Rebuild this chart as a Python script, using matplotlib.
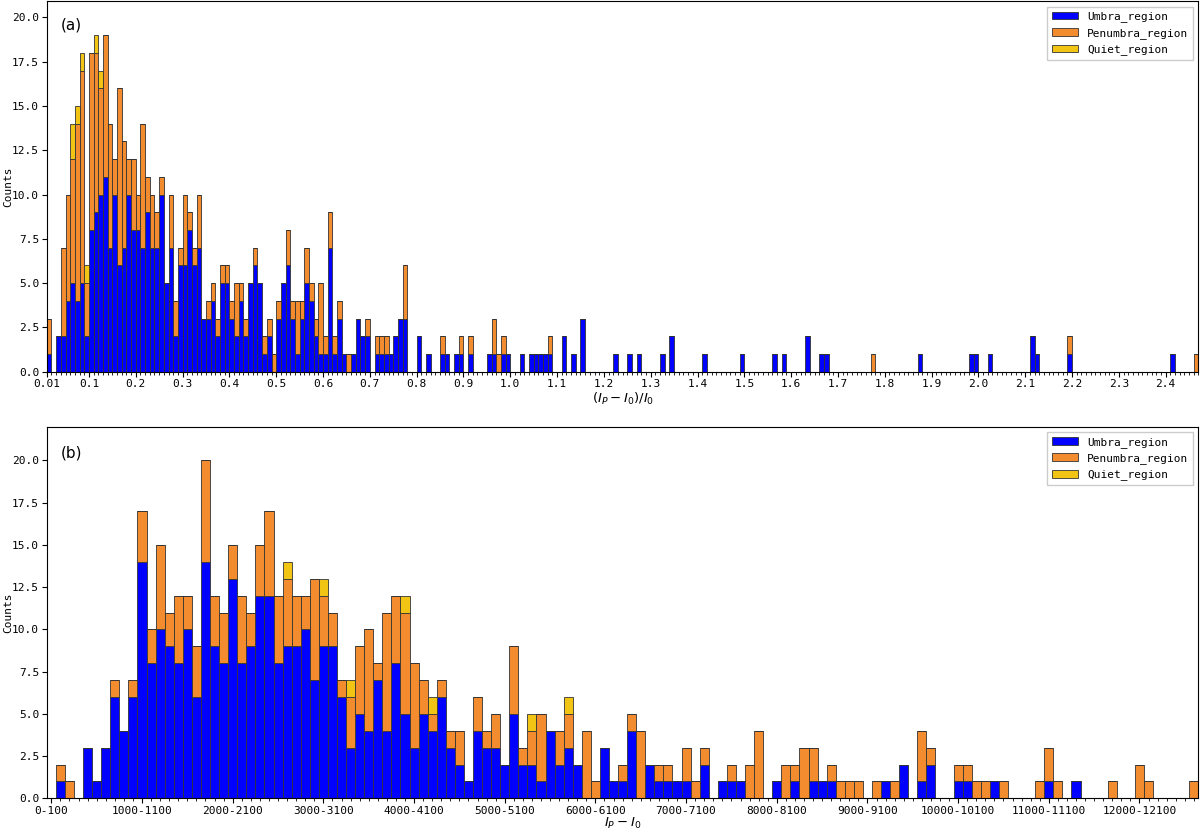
import matplotlib
matplotlib.use("Agg")
import matplotlib.pyplot as plt
import numpy as np

# ---- panel (a): (I_P - I_0)/I_0, bins of 0.01 (lower bin edge, non-empty bins only)
a_bin_left = [
    0.01, 0.03, 0.04, 0.05, 0.06, 0.07, 0.08, 0.09, 0.10, 0.11,
    0.12, 0.13, 0.14, 0.15, 0.16, 0.17, 0.18, 0.19, 0.20, 0.21,
    0.22, 0.23, 0.24, 0.25, 0.26, 0.27, 0.28, 0.29, 0.30, 0.31,
    0.32, 0.33, 0.34, 0.35, 0.36, 0.37, 0.38, 0.39, 0.40, 0.41,
    0.42, 0.43, 0.44, 0.45, 0.46, 0.47, 0.48, 0.49, 0.50, 0.51,
    0.52, 0.53, 0.54, 0.55, 0.56, 0.57, 0.58, 0.59, 0.60, 0.61,
    0.62, 0.63, 0.64, 0.65, 0.66, 0.67, 0.68, 0.69,
    0.71, 0.72, 0.73, 0.74, 0.75, 0.76, 0.77, 0.80, 0.82,
    0.85, 0.86, 0.88, 0.89, 0.91, 0.95, 0.96, 0.97, 0.98, 0.99,
    1.02, 1.04, 1.05, 1.06, 1.07, 1.08, 1.11, 1.13, 1.15,
    1.22, 1.25, 1.27, 1.32, 1.34, 1.41, 1.49, 1.56, 1.58, 1.63,
    1.66, 1.67, 1.77, 1.87, 1.98, 1.99, 2.02, 2.11, 2.12, 2.19,
    2.41, 2.46,
]
a_umbra = [
    1, 2, 2, 4, 5, 4, 5, 2, 8, 9,
    10, 11, 7, 10, 6, 7, 10, 8, 8, 7,
    9, 7, 7, 10, 5, 7, 2, 6, 6, 8,
    6, 7, 3, 3, 4, 2, 5, 5, 3, 2,
    4, 2, 5, 6, 5, 1, 2, 0, 3, 5,
    6, 3, 1, 3, 5, 4, 2, 1, 1, 7,
    1, 3, 1, 0, 1, 3, 2, 2,
    1, 1, 1, 1, 2, 3, 3, 2, 1,
    1, 1, 1, 1, 1, 1, 1, 0, 1, 1,
    1, 1, 1, 1, 1, 1, 2, 1, 3,
    1, 1, 1, 1, 2, 1, 1, 1, 1, 2,
    1, 1, 0, 1, 1, 1, 1, 2, 1, 1,
    1, 0,
]
a_penumbra = [
    2, 0, 5, 6, 7, 10, 12, 3, 10, 9,
    6, 8, 7, 2, 10, 6, 2, 4, 2, 7,
    2, 3, 2, 1, 0, 3, 2, 1, 4, 1,
    1, 3, 0, 1, 1, 1, 1, 1, 1, 3,
    1, 1, 0, 1, 0, 1, 1, 1, 1, 0,
    2, 1, 3, 1, 2, 1, 1, 4, 1, 2,
    1, 1, 0, 1, 0, 0, 0, 1,
    1, 1, 1, 0, 0, 0, 3, 0, 0,
    1, 0, 0, 1, 1, 0, 2, 1, 1, 0,
    0, 0, 0, 0, 0, 1, 0, 0, 0,
    0, 0, 0, 0, 0, 0, 0, 0, 0, 0,
    0, 0, 1, 0, 0, 0, 0, 0, 0, 1,
    0, 1,
]
a_quiet = [
    0, 0, 0, 0, 2, 1, 1, 1, 0, 1,
    1, 0, 0, 0, 0, 0, 0, 0, 0, 0,
] + [0] * 98
a_tick_labels = ["0.01", "0.1", "0.2", "0.3", "0.4", "0.5", "0.6", "0.7", "0.8",
                 "0.9", "1.0", "1.1", "1.2", "1.3", "1.4", "1.5", "1.6", "1.7",
                 "1.8", "1.9", "2.0", "2.1", "2.2", "2.3", "2.4"]
a_range = (0.01, 2.47)

# ---- panel (b): I_P - I_0, bins of 100 (0-100 ... 12600-12700)
b_umbra = [
    0, 1, 0, 0, 3, 1, 3, 6, 4, 6,
    14, 8, 10, 9, 8, 10, 6, 14, 9, 8,
    13, 8, 9, 12, 12, 8, 9, 9, 10, 7,
    9, 9, 6, 3, 5, 4, 7, 4, 8, 5,
    3, 5, 4, 6, 3, 2, 1, 4, 3, 3,
    2, 5, 2, 2, 1, 4, 2, 3, 2, 0,
    0, 3, 1, 1, 4, 0, 2, 1, 1, 1,
    1, 0, 2, 0, 1, 1, 1, 0, 0, 0,
    1, 0, 1, 0, 1, 1, 1, 0, 0, 0,
    0, 0, 1, 0, 2, 0, 1, 2, 0, 0,
    1, 1, 0, 0, 1, 0, 0, 0, 0, 0,
    1, 0, 0, 1, 0, 0, 0, 0, 0, 0,
    0, 0, 0, 0, 0, 0, 0,
]
b_penumbra = [
    0, 1, 1, 0, 0, 0, 0, 1, 0, 1,
    3, 2, 5, 2, 4, 2, 3, 6, 3, 3,
    2, 4, 2, 3, 5, 4, 4, 3, 2, 6,
    3, 2, 1, 3, 4, 6, 1, 7, 4, 6,
    5, 2, 1, 1, 1, 2, 0, 2, 1, 2,
    0, 4, 1, 2, 4, 0, 2, 2, 0, 4,
    1, 0, 0, 1, 1, 4, 0, 1, 1, 0,
    2, 1, 1, 0, 0, 1, 0, 2, 4, 0,
    0, 2, 1, 3, 2, 0, 1, 1, 1, 1,
    0, 1, 0, 1, 0, 0, 3, 1, 0, 0,
    1, 1, 1, 1, 0, 1, 0, 0, 0, 1,
    2, 1, 0, 0, 0, 0, 0, 1, 0, 0,
    2, 1, 0, 0, 0, 0, 1,
]
b_quiet = [
    0, 0, 0, 0, 0, 0, 0, 0, 0, 0,
    0, 0, 0, 0, 0, 0, 0, 0, 0, 0,
    0, 0, 0, 0, 0, 0, 1, 0, 0, 0,
    1, 0, 0, 1, 0, 0, 0, 0, 0, 1,
    0, 0, 1, 0, 0, 0, 0, 0, 0, 0,
    0, 0, 0, 1, 0, 0, 0, 1, 0, 0,
] + [0] * 67
b_tick_labels = ["0-100", "1000-1100", "2000-2100", "3000-3100", "4000-4100",
                 "5000-5100", "6000-6100", "7000-7100", "8000-8100", "9000-9100",
                 "10000-10100", "11000-11100", "12000-12100"]

SERIES = ["Umbra_region", "Penumbra_region", "Quiet_region"]
COLORS = ["#0000ff", "#f28c2e", "#f2c414"]
EDGE = dict(edgecolor="#333333", linewidth=0.6)
FONT = "DejaVu Sans Mono"


def stacked(ax, x, width, umbra, penumbra, quiet, align):
    umbra = np.asarray(umbra)
    penumbra = np.asarray(penumbra)
    quiet = np.asarray(quiet)
    ax.bar(x, umbra, width, align=align, color=COLORS[0], label=SERIES[0], **EDGE)
    ax.bar(x, penumbra, width, bottom=umbra, align=align, color=COLORS[1],
           label=SERIES[1], **EDGE)
    ax.bar(x, quiet, width, bottom=umbra + penumbra, align=align, color=COLORS[2],
           label=SERIES[2], **EDGE)
    top = (umbra + penumbra + quiet).max() * 1.1
    ticks = np.arange(0, top, 2.5)
    ax.set_ylim(0, top)
    ax.set_yticks(ticks)
    ax.set_yticklabels([f"{v:.1f}" for v in ticks], family=FONT, fontsize=8)
    ax.set_ylabel("Counts", family=FONT, fontsize=8)
    ax.yaxis.set_label_coords(-0.029, 0.5)
    ax.legend(loc="upper right", prop={"family": FONT, "size": 8},
              handlelength=2.4, fancybox=False, framealpha=1,
              borderaxespad=0.5)
    ax.tick_params(which="minor", length=2)
    ax.tick_params(which="major", length=3.5, pad=2)


fig = plt.figure(figsize=(12, 8.33), dpi=100)
ax_a = fig.add_axes([0.039, 0.5537, 0.9597, 0.4445])
ax_b = fig.add_axes([0.039, 0.0416, 0.9597, 0.4462])

# (a)
stacked(ax_a, a_bin_left, 0.01, a_umbra, a_penumbra, a_quiet, "edge")
ax_a.set_xlim(*a_range)
ax_a.set_xticks([float(t) for t in a_tick_labels])
ax_a.set_xticklabels(a_tick_labels, family=FONT, fontsize=8)
ax_a.set_xticks(np.arange(a_range[0], a_range[1] + 1e-9, 0.01), minor=True)
ax_a.set_xlabel(r"$(I_P-I_0)/I_0$", fontsize=9.5, labelpad=1)
ax_a.text(0.012, 0.958, "(a)", transform=ax_a.transAxes, ha="left", va="top",
          fontsize=11)

# (b)
b_x = np.arange(len(b_umbra))
stacked(ax_b, b_x, 1.0, b_umbra, b_penumbra, b_quiet, "center")
ax_b.set_xlim(-0.5, len(b_umbra) - 0.5)
ax_b.set_xticks(np.arange(0, len(b_umbra), 10)[:len(b_tick_labels)])
ax_b.set_xticklabels(b_tick_labels, family=FONT, fontsize=8)
ax_b.set_xticks(b_x, minor=True)
ax_b.set_xlabel(r"$I_P-I_0$", fontsize=9.5, labelpad=0)
ax_b.text(0.012, 0.95, "(b)", transform=ax_b.transAxes, ha="left", va="top",
          fontsize=11)

fig.savefig("out.png", dpi=100)
